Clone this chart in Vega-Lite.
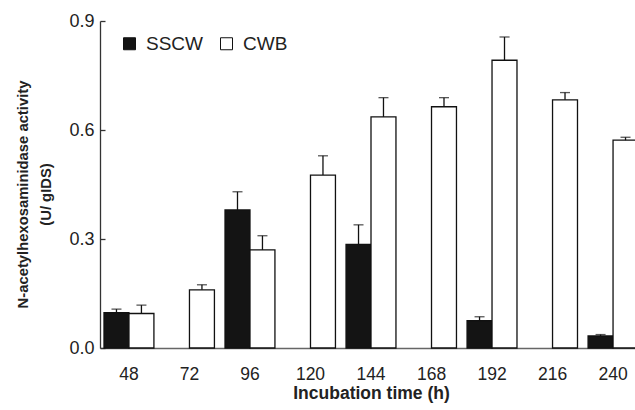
{
  "$schema": "https://vega.github.io/schema/vega-lite/v6.json",
  "width": 535,
  "height": 327,
  "autosize": {"type": "none"},
  "padding": {"left": 100, "top": 21, "right": 0, "bottom": 62},
  "background": "white",
  "config": {
    "view": {"stroke": null},
    "font": "Liberation Sans"
  },
  "data": {
    "values": [
      {"time": "48", "group": "SSCW", "value": 0.097, "upper": 0.107},
      {"time": "48", "group": "CWB", "value": 0.095, "upper": 0.118},
      {"time": "72", "group": "CWB", "value": 0.160, "upper": 0.174},
      {"time": "96", "group": "SSCW", "value": 0.380, "upper": 0.430},
      {"time": "96", "group": "CWB", "value": 0.270, "upper": 0.309},
      {"time": "120", "group": "CWB", "value": 0.476, "upper": 0.529},
      {"time": "144", "group": "SSCW", "value": 0.285, "upper": 0.339},
      {"time": "144", "group": "CWB", "value": 0.636, "upper": 0.689},
      {"time": "168", "group": "CWB", "value": 0.664, "upper": 0.689},
      {"time": "192", "group": "SSCW", "value": 0.075, "upper": 0.086},
      {"time": "192", "group": "CWB", "value": 0.792, "upper": 0.856},
      {"time": "216", "group": "CWB", "value": 0.683, "upper": 0.703},
      {"time": "240", "group": "SSCW", "value": 0.033, "upper": 0.037},
      {"time": "240", "group": "CWB", "value": 0.572, "upper": 0.580}
    ]
  },
  "encoding": {
    "x": {
      "field": "time",
      "type": "nominal",
      "sort": ["48", "72", "96", "120", "144", "168", "192", "216", "240"],
      "scale": {"range": [0, 542], "paddingInner": 0.175, "paddingOuter": 0.066},
      "axis": {
        "title": "Incubation time (h)",
        "labelAngle": 0,
        "ticks": false,
        "tickSize": 0,
        "labelPadding": 17,
        "labelFontSize": 17.5,
        "labelColor": "#222",
        "labelBaseline": "top",
        "domainColor": "#666",
        "domainWidth": 1.5,
        "titleFontSize": 17.5,
        "titleFontWeight": "bold",
        "titleColor": "#222",
        "titleX": 271,
        "titleY": 50,
        "titleAnchor": null,
        "titleAlign": "center",
        "titleBaseline": "alphabetic"
      }
    },
    "xOffset": {
      "field": "group",
      "type": "nominal",
      "sort": ["SSCW", "CWB"],
      "scale": {"domain": ["SSCW", "CWB"], "paddingInner": 0, "paddingOuter": 0}
    }
  },
  "layer": [
    {
      "mark": {"type": "bar", "stroke": "#111", "strokeWidth": 1.3},
      "encoding": {
        "y": {
          "field": "value",
          "type": "quantitative",
          "scale": {"domain": [0, 0.9], "nice": false},
          "axis": {
            "values": [0, 0.3, 0.6, 0.9],
            "format": ".1f",
            "grid": false,
            "tickSize": -5,
            "tickColor": "#333",
            "tickWidth": 1.3,
            "domainColor": "#333",
            "domainWidth": 1.3,
            "labelPadding": 11,
            "labelFontSize": 18,
            "labelColor": "#222",
            "title": ["N-acetylhexosaminidase activity", "(U/ gIDS)"],
            "titleFontSize": 14.8,
            "titleFontWeight": "bold",
            "titleColor": "#222",
            "titleAngle": -90,
            "titleX": -77,
            "titleY": 173,
            "titleAlign": "center",
            "titleBaseline": "middle",
            "titleLineHeight": 23
          }
        },
        "fill": {
          "field": "group",
          "type": "nominal",
          "scale": {"domain": ["SSCW", "CWB"], "range": ["#141414", "#ffffff"]},
          "legend": {
            "title": null,
            "orient": "none",
            "legendX": 20,
            "legendY": 13,
            "direction": "horizontal",
            "symbolType": "square",
            "symbolSize": 144,
            "symbolStrokeColor": "#111",
            "symbolStrokeWidth": 1,
            "labelFontSize": 19,
            "labelColor": "#222",
            "labelOffset": 7,
            "columnPadding": 14
          }
        }
      }
    },
    {
      "mark": {"type": "rule", "stroke": "#111", "strokeWidth": 1.3},
      "encoding": {
        "y": {"field": "value", "type": "quantitative"},
        "y2": {"field": "upper"}
      }
    },
    {
      "mark": {"type": "tick", "color": "#111", "thickness": 1.3, "size": 10, "orient": "horizontal"},
      "encoding": {
        "y": {"field": "upper", "type": "quantitative"}
      }
    }
  ]
}
